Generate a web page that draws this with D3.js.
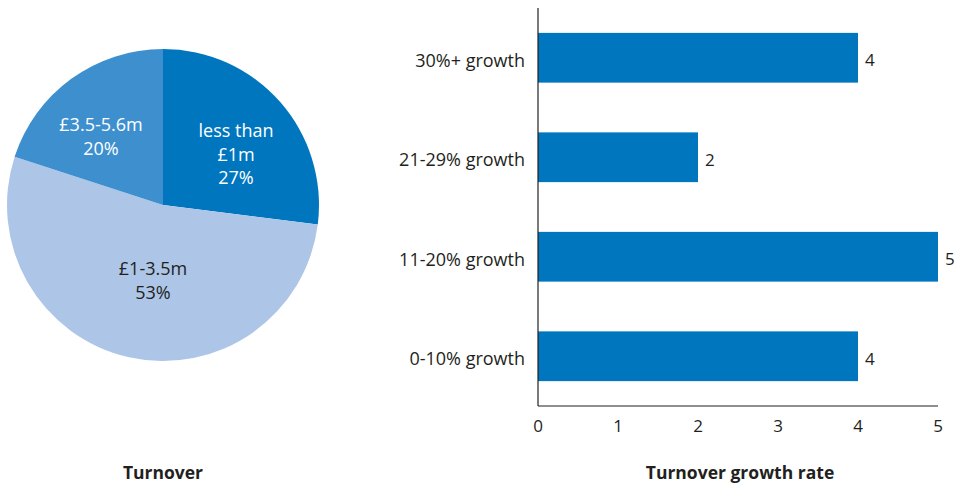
<!DOCTYPE html>
<html lang="en">
<head>
<meta charset="UTF-8">
<title>Turnover</title>
<script src="https://d3js.org/d3.v7.min.js"></script>
<style>
  body { margin: 0; background: #fff; }
  text { font-family: "Open Sans", "Noto Sans", sans-serif; }
</style>
</head>
<body>
<div id="chart"></div>
<script>
var pieLabels = [["less than", "£1m"], ["£1-3.5m"], ["£3.5-5.6m"]];
var pieValues = [27, 53, 20];
var pieColors = ["#0076bf", "#adc6e8", "#3d8fce"];
var pieText = ["#fff", "#231f20", "#fff"];

var barCats = ["30%+ growth", "21-29% growth", "11-20% growth", "0-10% growth"];
var barValues = [4, 2, 5, 4];
var xTicks = [0, 1, 2, 3, 4, 5];

var width = 954, height = 484;
var svg = d3.select('#chart').append('svg')
    .attr('width', width)
    .attr('height', height);

// pie
var cx = 163, cy = 205, r = 156;
var pg = svg.append('g').attr('transform', 'translate(' + cx + ',' + cy + ')');
var pie = d3.pie().sort(null).value(d => d)(pieValues);
var arc = d3.arc().innerRadius(0).outerRadius(r);

pg.selectAll('path')
    .data(pie)
    .enter()
    .append('path')
    .attr('d', arc)
    .attr('fill', (d, i) => pieColors[i]);

// label spots, tuned by hand
var labelPos = [[73, -68], [-10, 70], [-62, -74]];
pie.forEach((d, i) => {
    var lines = pieLabels[i].concat([pieValues[i] + '%']);
    var t = pg.append('text')
        .attr('text-anchor', 'middle')
        .attr('font-size', '18px')
        .attr('fill', pieText[i]);
    lines.forEach((s, j) => {
        t.append('tspan')
            .attr('x', labelPos[i][0])
            .attr('y', labelPos[i][1] + j * 23.5)
            .text(s);
    });
});

svg.append('text')
    .attr('x', cx)
    .attr('y', 479)
    .attr('text-anchor', 'middle')
    .attr('font-size', '17.5px')
    .attr('font-weight', 'bold')
    .attr('fill', '#231f20')
    .text('Turnover');

// bars
var x0 = 538, x1 = 938, yTop = 8, yBot = 406;
var x = d3.scaleLinear().domain([0, 5]).range([x0, x1]);
var y = d3.scaleBand().domain(barCats).range([yTop, yBot]).paddingInner(0.5).paddingOuter(0.25);

var bg = svg.append('g');
bg.selectAll('rect')
    .data(barValues)
    .enter()
    .append('rect')
    .attr('x', x(0))
    .attr('y', (d, i) => y(barCats[i]))
    .attr('width', d => x(d) - x(0))
    .attr('height', y.bandwidth())
    .attr('fill', '#0076bf');

bg.selectAll('.val')
    .data(barValues)
    .enter()
    .append('text')
    .attr('class', 'val')
    .attr('x', d => x(d) + 7)
    .attr('y', (d, i) => y(barCats[i]) + y.bandwidth() / 2)
    .attr('dy', '0.5em')
    .attr('font-size', '17px')
    .attr('fill', '#231f20')
    .text(d => d);

bg.selectAll('.cat')
    .data(barCats)
    .enter()
    .append('text')
    .attr('class', 'cat')
    .attr('x', x0 - 13)
    .attr('y', d => y(d) + y.bandwidth() / 2)
    .attr('dy', '0.5em')
    .attr('text-anchor', 'end')
    .attr('font-size', '18px')
    .attr('fill', '#231f20')
    .text(d => d);

bg.append('line')
    .attr('x1', x0).attr('x2', x0)
    .attr('y1', yTop).attr('y2', yBot)
    .attr('stroke', '#231f20').attr('stroke-width', 1.2);
bg.append('line')
    .attr('x1', x0).attr('x2', x1)
    .attr('y1', yBot).attr('y2', yBot)
    .attr('stroke', '#231f20').attr('stroke-width', 1.2);

bg.selectAll('.tick')
    .data(xTicks)
    .enter()
    .append('text')
    .attr('class', 'tick')
    .attr('x', d => x(d))
    .attr('y', 432)
    .attr('text-anchor', 'middle')
    .attr('font-size', '17px')
    .attr('fill', '#231f20')
    .text(d => d);

svg.append('text')
    .attr('x', 740)
    .attr('y', 479)
    .attr('text-anchor', 'middle')
    .attr('font-size', '17.5px')
    .attr('font-weight', 'bold')
    .attr('fill', '#231f20')
    .text('Turnover growth rate');
</script>
</body>
</html>
